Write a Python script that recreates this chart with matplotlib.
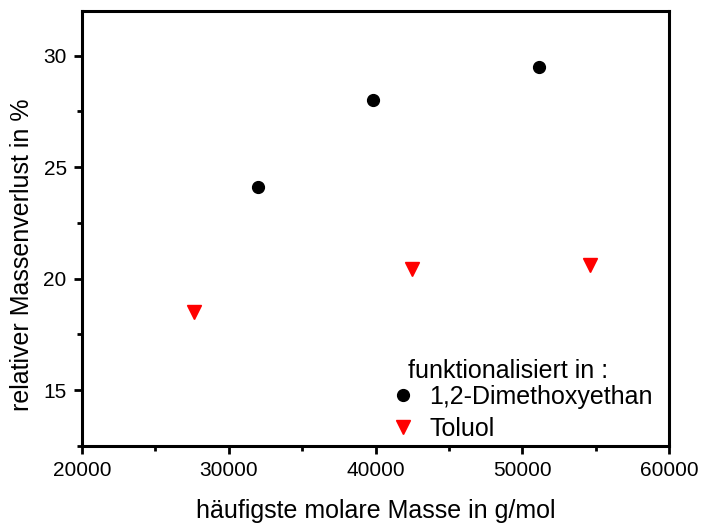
import numpy as np
import matplotlib
matplotlib.use('Agg')
import matplotlib.pyplot as plt
from matplotlib.ticker import MultipleLocator

plt.rcParams['font.family'] = ['Liberation Sans', 'DejaVu Sans']

# data
dme_mass = [32000, 39850, 51150]
dme_loss = [24.1, 28.0, 29.5]
tol_mass = [27600, 42500, 54650]
tol_loss = [18.5, 20.45, 20.6]

fig = plt.figure(figsize=(7.01, 5.24), dpi=100)
ax = fig.add_axes([82/701, 1 - 446/524, 587/701, 435/524])

ax.plot(dme_mass, dme_loss, 'o', color='black', markersize=8.5, label='1,2-Dimethoxyethan')
ax.plot(tol_mass, tol_loss, 'v', color='red', markersize=9.5, label='Toluol')

ax.set_xlim(20000, 60000)
ax.set_ylim(12.5, 32)
ax.xaxis.set_major_locator(MultipleLocator(10000))
ax.xaxis.set_minor_locator(MultipleLocator(5000))
ax.yaxis.set_major_locator(MultipleLocator(5))
ax.yaxis.set_minor_locator(MultipleLocator(2.5))

for s in ax.spines.values():
    s.set_linewidth(2.2)
ax.tick_params(which='major', direction='out', length=6, width=2, labelsize=15, pad=5)
ax.tick_params(which='minor', direction='out', length=3.5, width=2)

ax.set_xlabel('häufigste molare Masse in g/mol', fontsize=18)
ax.set_ylabel('relativer Massenverlust in %', fontsize=18)
ax.xaxis.set_label_coords(0.5, -0.122)
ax.yaxis.set_label_coords(-0.082, 0.44)

# legend title as its own text, entries below it
ax.text(0.555, 0.172, 'funktionalisiert in :', transform=ax.transAxes,
        fontsize=18, ha='left', va='center')
ax.legend(loc='upper left', bbox_to_anchor=(0.530, 0.140), frameon=False,
          fontsize=18, handletextpad=0.65, labelspacing=0.31, borderpad=0,
          borderaxespad=0, handlelength=0.8)

fig.savefig('out.png', dpi=100)
